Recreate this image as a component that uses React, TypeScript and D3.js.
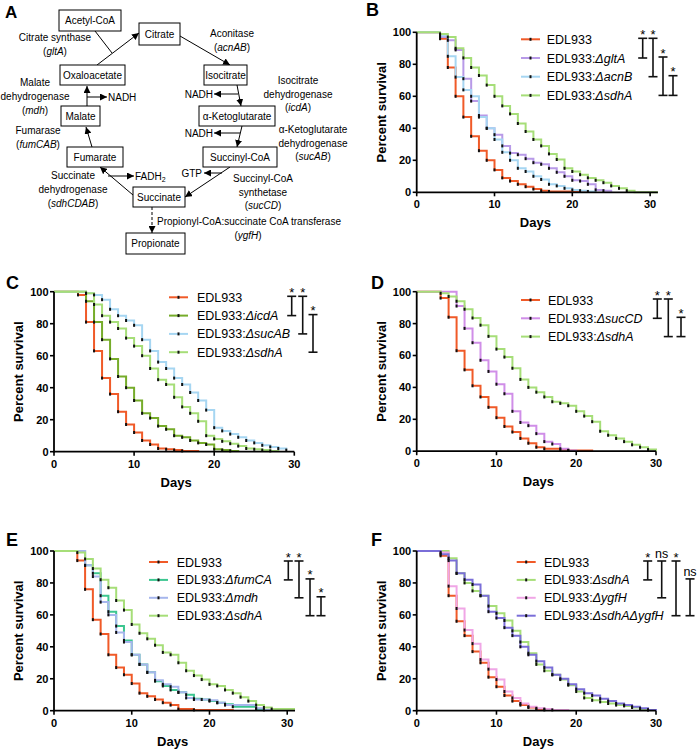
import React from 'react';
import * as d3 from 'd3';

const FONT = "Arial, 'Liberation Sans', Helvetica, sans-serif";

// ---------- Data (percent survival at each day, index = day) ----------
const xTicks = [0, 10, 20, 30];
const yTicks = [0, 20, 40, 60, 80, 100];

// Panel B
const bEDL933 = [100, 100, 100, 96, 78, 60, 47, 35, 26, 20, 14, 9, 7, 5, 3.5, 2, 1, 0.5, 0.5, 0.5, 0.5, 0.5, 0];
const bGltA = [100, 100, 100, 97, 95, 89, 71, 57, 48, 40, 36, 29, 24.5, 23.5, 21, 18.5, 17.5, 15, 12.5, 10, 7.5, 7, 5, 1.5, 1, 0];
const bAcnB = [100, 100, 100, 98, 85, 72, 64, 60, 47, 40, 33, 25, 20, 15, 13, 10, 8, 5, 4, 2.5, 1.5, 1, 0.5, 0];
const bSdhA = [100, 100, 100, 99, 97, 90, 84, 78, 73, 67, 60, 54, 49, 43, 38, 33, 29, 24, 20.5, 15, 13, 11, 9, 7.5, 6, 4, 2.5, 1, 0, 0, 0, 0];
const bSig = ['*', '*', '*', '*'];

// Panel C
const cEDL933 = [100, 100, 100, 98, 81, 63, 46, 36, 25, 17, 12, 7, 4.5, 2, 1.5, 1, 0.5, 0.5, 0];
const cIcdA = [100, 100, 100, 100, 94, 81, 70, 58, 47, 40, 32, 24, 21, 16, 14, 10, 9, 7, 5.5, 4.5, 1.5, 1, 0.5, 0];
const cSucAB = [100, 100, 100, 100, 99, 98, 95, 89, 85, 82, 79, 70, 63, 56, 52, 46, 42, 37, 32, 26, 15, 13, 11, 9, 7, 5.5, 4, 3, 2, 1];
const cSdhA = [100, 100, 100, 100, 99, 92, 85, 81, 77, 71, 66, 60, 52, 45, 42, 34, 28, 24, 19, 10, 8, 6.5, 5, 3.5, 2, 1.5, 1, 0.5, 0];
const cSig = ['*', '*', '*'];

// Panel D
const dEDL933 = [100, 100, 100, 96, 84, 63, 51, 41, 34, 27.5, 21, 15.5, 12, 8, 5, 2.5, 1.5, 1.5, 1, 0.5, 0.5, 0.5, 0];
const dSucCD = [100, 100, 100, 100, 100, 91, 77, 68, 57, 50, 42, 36, 25, 18, 16, 11, 6, 4.5, 1.5, 0.5, 0];
const dSdhA = [100, 100, 100, 99, 97, 94, 89, 83.5, 79, 72, 64, 59, 52, 45, 40, 37, 34, 31, 30, 28.5, 25, 22, 18.5, 12.5, 10, 8, 6, 4, 2.5, 1, 0];
const dSig = ['*', '*', '*'];

// Panel E
const eEDL933 = [100, 100, 100, 94, 76, 57, 48, 35, 27, 22.5, 17, 11, 9, 7, 5, 3.5, 1, 1, 0.5, 0.5, 0.5, 0.5, 0.5, 0];
const eFumCA = [100, 100, 100, 100, 91, 86, 72, 62, 53, 44, 35, 29, 24, 18.5, 15.5, 13, 11.5, 10, 7.5, 7, 6, 5, 4, 2.5, 2.5, 2.5, 1, 0];
const eMdh = [100, 100, 100, 100, 91, 84, 68, 60, 49, 43, 35, 29, 24, 19, 16.5, 15, 11.5, 8, 7, 7, 6.5, 5, 3.5, 3.5, 3.5, 3.5, 1.5, 0.5, 0];
const eSdhA = [100, 100, 100, 99, 95, 89, 82, 77, 69, 63, 54, 48.5, 45, 41, 36.5, 35, 30, 25, 22, 19.5, 16.5, 15.5, 13, 11, 8.5, 6, 3.5, 2, 1, 1, 1, 1];
const eSig = ['*', '*', '*', '*'];

// Panel F
const fEDL933 = [100, 100, 100, 97, 72, 56, 47, 37, 30, 21, 15, 9.5, 6, 3.5, 2, 1, 0.5, 0];
const fSdhA = [100, 100, 100, 100, 95.5, 86, 80, 75, 72, 65.5, 61, 56.5, 50, 43, 36, 29, 25, 22.5, 19.5, 16, 12, 8, 6.5, 5.5, 4.5, 3.5, 3, 2, 1, 0.5, 0];
const fYgfH = [100, 100, 100, 99, 78, 64, 50.5, 42, 32, 26, 19.5, 12, 8, 4.5, 2.5, 1.5, 1, 0.5, 0.5, 0];
const fSdhAYgfH = [100, 100, 100, 98, 94, 86, 82, 79, 72, 62, 58, 52, 47, 40, 35, 31, 27, 22.5, 20, 16.5, 13.5, 11, 9.5, 7.5, 6, 4.5, 3.5, 2.5, 1.5, 0.5, 0];
const fSig = ['*', 'ns', '*', 'ns'];

// ---------- Colours ----------
const RED = '#f05a28';
const LAV = '#b89ae8';
const SKY = '#a6d6f2';
const LGREEN = '#a6de78';
const OLIVE = '#76ac2a';
const ORCHID = '#d08ee8';
const TEAL = '#3cc690';
const PERI = '#a6b6ec';
const PINK = '#f0a6e6';
const INDIGO = '#7a6ed8';

type Series = { gene: string | null; values: number[]; color: string };
type PanelCfg = {
  label: string; lx: number; ly: number;
  x0: number; x1: number; xmax: number; yTop: number; yBot: number;
  series: Series[];
  legX: number; legTextX: number; legY0: number; legDy: number;
  brX: number[]; pairs: number[][]; sig: string[];
};

const panels: PanelCfg[] = [
  {
    label: 'B', lx: 366, ly: 16, x0: 416.7, x1: 657.9, xmax: 31, yTop: 32.3, yBot: 192.3,
    series: [
      { gene: null, values: bEDL933, color: RED },
      { gene: 'gltA', values: bGltA, color: LAV },
      { gene: 'acnB', values: bAcnB, color: SKY },
      { gene: 'sdhA', values: bSdhA, color: LGREEN },
    ],
    legX: 521, legTextX: 546.7, legY0: 39.3, legDy: 18.7,
    brX: [642.7, 653, 663, 673], pairs: [[0, 1], [0, 2], [1, 3], [2, 3]], sig: bSig,
  },
  {
    label: 'C', lx: 6, ly: 289, x0: 54, x1: 294.3, xmax: 30, yTop: 291.7, yBot: 451.7,
    series: [
      { gene: null, values: cEDL933, color: RED },
      { gene: 'icdA', values: cIcdA, color: OLIVE },
      { gene: 'sucAB', values: cSucAB, color: SKY },
      { gene: 'sdhA', values: cSdhA, color: LGREEN },
    ],
    legX: 169, legTextX: 197, legY0: 297.3, legDy: 18.3,
    brX: [291.7, 302.7, 313], pairs: [[0, 1], [0, 2], [1, 3]], sig: cSig,
  },
  {
    label: 'D', lx: 371, ly: 289, x0: 416.7, x1: 656, xmax: 30, yTop: 291.7, yBot: 451.2,
    series: [
      { gene: null, values: dEDL933, color: RED },
      { gene: 'sucCD', values: dSucCD, color: ORCHID },
      { gene: 'sdhA', values: dSdhA, color: LGREEN },
    ],
    legX: 521, legTextX: 548, legY0: 300, legDy: 18.3,
    brX: [657.3, 668.3, 681], pairs: [[0, 1], [0, 2], [1, 2]], sig: dSig,
  },
  {
    label: 'E', lx: 6, ly: 546, x0: 54, x1: 295, xmax: 31, yTop: 551, yBot: 710.7,
    series: [
      { gene: null, values: eEDL933, color: RED },
      { gene: 'fumCA', values: eFumCA, color: TEAL },
      { gene: 'mdh', values: eMdh, color: PERI },
      { gene: 'sdhA', values: eSdhA, color: LGREEN },
    ],
    legX: 149, legTextX: 176.7, legY0: 562, legDy: 17.9,
    brX: [288.3, 299, 310, 321], pairs: [[0, 1], [0, 2], [1, 3], [2, 3]], sig: eSig,
  },
  {
    label: 'F', lx: 371, ly: 546, x0: 416.7, x1: 656, xmax: 30, yTop: 551, yBot: 710.7,
    series: [
      { gene: null, values: fEDL933, color: RED },
      { gene: 'sdhA', values: fSdhA, color: LGREEN },
      { gene: 'ygfH', values: fYgfH, color: PINK },
      { gene: 'sdhAΔygfH', values: fSdhAYgfH, color: INDIGO },
    ],
    legX: 516.7, legTextX: 544, legY0: 562, legDy: 17.9,
    brX: [647.7, 661.7, 676, 690], pairs: [[0, 1], [0, 2], [0, 3], [1, 3]], sig: fSig,
  },
];

function SurvivalPanel({ cfg }: { cfg: PanelCfg }) {
  const x = d3.scaleLinear().domain([0, cfg.xmax]).range([cfg.x0, cfg.x1]);
  const y = d3.scaleLinear().domain([0, 100]).range([cfg.yBot, cfg.yTop]);
  const line = d3.line<number>().x((_d, i) => x(i)).y((d) => y(d)).curve(d3.curveStepAfter);
  const legY = (i: number) => cfg.legY0 + i * cfg.legDy;
  return (
    <g>
      <text x={cfg.lx} y={cfg.ly} fontSize={18} fontWeight="bold" fontFamily={FONT}>{cfg.label}</text>
      {/* curves */}
      {cfg.series.map((s, si) => (
        <g key={si}>
          <path d={line(s.values) || ''} fill="none" stroke={s.color} strokeWidth={2} />
        </g>
      ))}
      {cfg.series.map((s, si) => (
        <g key={'m' + si}>
          {s.values.map((v, i) =>
            i > 0 && v !== s.values[i - 1] && v > 0 ? (
              <rect key={i} x={x(i) - 1} y={y(v) - 1.5} width={2} height={3} fill="#111" />
            ) : null
          )}
        </g>
      ))}
      {/* axes */}
      <line x1={x(0)} x2={x(cfg.xmax)} y1={y(0)} y2={y(0)} stroke="#000" strokeWidth={1.8} />
      <line x1={x(0)} x2={x(0)} y1={y(0) + 0.9} y2={y(100)} stroke="#000" strokeWidth={1.8} />
      {yTicks.map((t) => (
        <g key={'y' + t}>
          <line x1={x(0) - 4} x2={x(0)} y1={y(t)} y2={y(t)} stroke="#000" strokeWidth={1.6} />
          <text x={x(0) - 5.5} y={y(t)} dy="0.36em" textAnchor="end" fontSize={11} fontWeight="bold" fontFamily={FONT}>{t}</text>
        </g>
      ))}
      {xTicks.map((t) => (
        <g key={'x' + t}>
          <line x1={x(t)} x2={x(t)} y1={y(0)} y2={y(0) + 4} stroke="#000" strokeWidth={1.6} />
          <text x={x(t)} y={y(0) + 16} textAnchor="middle" fontSize={11} fontWeight="bold" fontFamily={FONT}>{t}</text>
        </g>
      ))}
      <text x={(x(0) + x(30)) / 2 + 2} y={y(0) + 35} textAnchor="middle" fontSize={13} fontWeight="bold" fontFamily={FONT}>Days</text>
      <text transform={`translate(${x(0) - 31},${(y(0) + y(100)) / 2}) rotate(-90)`} textAnchor="middle" fontSize={13} fontWeight="bold" fontFamily={FONT}>Percent survival</text>
      {/* legend */}
      {cfg.series.map((s, si) => (
        <g key={'l' + si}>
          <line x1={cfg.legX} x2={cfg.legX + 19} y1={legY(si)} y2={legY(si)} stroke={s.color} strokeWidth={2} />
          <rect x={cfg.legX + 8.5} y={legY(si) - 1.5} width={2} height={3} fill="#111" />
          <text x={cfg.legTextX} y={legY(si)} dy="0.36em" fontSize={12.5} fontFamily={FONT}>
            EDL933
            {s.gene ? <tspan>:</tspan> : null}
            {s.gene ? <tspan fontStyle="italic">Δ{s.gene}</tspan> : null}
          </text>
        </g>
      ))}
      {/* significance brackets */}
      {cfg.pairs.map((p, k) => {
        const bx = cfg.brX[k];
        const ya = legY(p[0]) - 1;
        const yb = legY(p[1]);
        const lab = cfg.sig[k];
        return (
          <g key={'b' + k}>
            <line x1={bx} x2={bx} y1={ya} y2={yb} stroke="#111" strokeWidth={1.6} />
            <line x1={bx - 4.5} x2={bx + 4.5} y1={ya} y2={ya} stroke="#111" strokeWidth={1.6} />
            <line x1={bx - 4.5} x2={bx + 4.5} y1={yb} y2={yb} stroke="#111" strokeWidth={1.6} />
            <text x={bx} y={lab === '*' ? ya + 0.5 : ya - 3} textAnchor="middle" fontSize={lab === '*' ? 13 : 12.5} fontFamily={FONT}>{lab}</text>
          </g>
        );
      })}
    </g>
  );
}

// ---------- Panel A (pathway diagram) ----------
const boxes = [
  { t: 'Acetyl-CoA', x: 59, y: 10, w: 62, h: 21 },
  { t: 'Citrate', x: 139, y: 23, w: 41, h: 22 },
  { t: 'Oxaloacetate', x: 60, y: 65, w: 65, h: 20 },
  { t: 'Isocitrate', x: 204, y: 65, w: 43, h: 20 },
  { t: 'Malate', x: 61, y: 106, w: 39, h: 20 },
  { t: 'α-Ketoglutarate', x: 199, y: 106, w: 76, h: 20 },
  { t: 'Fumarate', x: 67, y: 147, w: 56, h: 20 },
  { t: 'Succinyl-CoA', x: 203, y: 147, w: 74, h: 20 },
  { t: 'Succinate', x: 133, y: 187, w: 52, h: 20 },
  { t: 'Propionate', x: 126, y: 233, w: 59, h: 21 },
];

const arrows = [
  [97, 65, 139, 33, 1, 0],
  [95, 31, 112, 53, 0, 0],
  [180, 36, 230, 65, 1, 0],
  [237, 85, 241, 106, 1, 0],
  [238, 94, 214, 94, 1, 0],
  [242, 126, 237, 147, 1, 0],
  [240, 133, 214, 133, 1, 0],
  [230, 167, 185, 197, 1, 0],
  [222, 173, 204, 173, 1, 0],
  [133, 195, 100, 167, 1, 0],
  [108, 176, 134, 176, 1, 0],
  [92, 147, 86, 127, 1, 0],
  [87, 106, 87, 86, 1, 0],
  [87, 97, 107, 97, 1, 0],
  [152, 207, 152, 233, 1, 1],
];

type Lab = { x: number; y: number; parts: [string, boolean][]; anchor?: string };
const enzymeLabels: Lab[] = [
  { x: 55, y: 37, parts: [['Citrate synthase', false]] },
  { x: 55, y: 51, parts: [['(', false], ['gltA', true], [')', false]] },
  { x: 232, y: 33, parts: [['Aconitase', false]] },
  { x: 232, y: 47, parts: [['(', false], ['acnAB', true], [')', false]] },
  { x: 35, y: 82, parts: [['Malate', false]] },
  { x: 35, y: 96, parts: [['dehydrogenase', false]] },
  { x: 35, y: 110, parts: [['(', false], ['mdh', true], [')', false]] },
  { x: 298, y: 80, parts: [['Isocitrate', false]] },
  { x: 298, y: 94, parts: [['dehydrogenase', false]] },
  { x: 298, y: 107, parts: [['(', false], ['icdA', true], [')', false]] },
  { x: 313, y: 129, parts: [['α-Ketoglutarate', false]] },
  { x: 313, y: 143, parts: [['dehydrogenase', false]] },
  { x: 313, y: 156, parts: [['(', false], ['sucAB', true], [')', false]] },
  { x: 38, y: 130, parts: [['Fumarase', false]] },
  { x: 38, y: 144, parts: [['(', false], ['fumCAB', true], [')', false]] },
  { x: 73, y: 175, parts: [['Succinate', false]] },
  { x: 73, y: 189, parts: [['dehydrogenase', false]] },
  { x: 73, y: 203, parts: [['(', false], ['sdhCDAB', true], [')', false]] },
  { x: 263, y: 178, parts: [['Succinyl-CoA', false]] },
  { x: 263, y: 192, parts: [['synthetase', false]] },
  { x: 263, y: 205, parts: [['(', false], ['sucCD', true], [')', false]] },
  { x: 157, y: 221, parts: [['Propionyl-CoA:succinate CoA transferase', false]], anchor: 'start' },
  { x: 248, y: 235, parts: [['(', false], ['ygfH', true], [')', false]] },
  { x: 108, y: 97, parts: [['NADH', false]], anchor: 'start' },
  { x: 213, y: 94, parts: [['NADH', false]], anchor: 'end' },
  { x: 213, y: 133, parts: [['NADH', false]], anchor: 'end' },
  { x: 202, y: 173, parts: [['GTP', false]], anchor: 'end' },
];

function PanelA() {
  return (
    <g fontFamily={FONT}>
      <defs>
        <marker id="arrowHead" viewBox="0 0 10 10" refX={10} refY={5} markerWidth={7} markerHeight={7} markerUnits="userSpaceOnUse" orient="auto">
          <path d="M0,0 L10,5 L0,10 z" fill="#000" />
        </marker>
      </defs>
      <text x={5} y={18} fontSize={17} fontWeight="bold">A</text>
      {arrows.map((a, i) => (
        <line key={i} x1={a[0]} y1={a[1]} x2={a[2]} y2={a[3]} stroke="#000" strokeWidth={1}
          strokeDasharray={a[5] ? '3,2' : undefined}
          markerEnd={a[4] ? 'url(#arrowHead)' : undefined} />
      ))}
      {boxes.map((b) => (
        <g key={b.t}>
          <rect x={b.x} y={b.y} width={b.w} height={b.h} fill="#fff" stroke="#000" strokeWidth={1} />
          <text x={b.x + b.w / 2} y={b.y + b.h / 2} dy="0.35em" textAnchor="middle" fontSize={10}>{b.t}</text>
        </g>
      ))}
      {enzymeLabels.map((l, i) => (
        <text key={i} x={l.x} y={l.y} dy="0.35em" textAnchor={l.anchor || 'middle'} fontSize={10}>
          {l.parts.map((p, j) => (
            <tspan key={j} fontStyle={p[1] ? 'italic' : 'normal'}>{p[0]}</tspan>
          ))}
        </text>
      ))}
      <text x={135} y={176} dy="0.35em" fontSize={10}>FADH<tspan fontSize={7} dy={2}>2</tspan></text>
    </g>
  );
}

export default function App() {
  return (
    <svg width={700} height={750} viewBox="0 0 700 750"
      style={{ position: 'absolute', left: 0, top: 0, background: '#fff' }}>
      <rect x={0} y={0} width={700} height={750} fill="#fff" />
      <PanelA />
      {panels.map((p) => (
        <SurvivalPanel key={p.label} cfg={p} />
      ))}
    </svg>
  );
}
